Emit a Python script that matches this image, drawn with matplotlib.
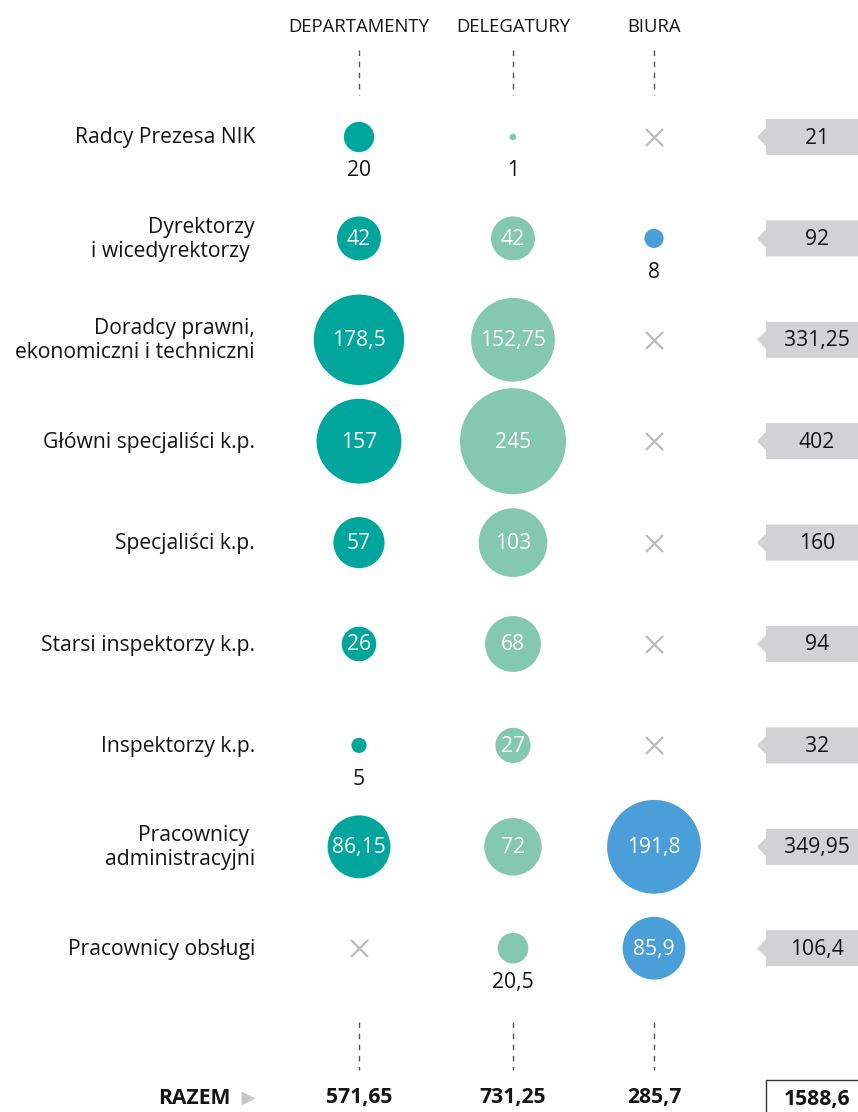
import matplotlib
matplotlib.use('Agg')
import matplotlib.pyplot as plt
from matplotlib.patches import Circle, Polygon, Rectangle

plt.rcParams['font.family'] = ['Open Sans', 'DejaVu Sans']

categories = ['Radcy Prezesa NIK', 'Dyrektorzy\ni wicedyrektorzy ',
              'Doradcy prawni,\nekonomiczni i techniczni', 'Główni specjaliści k.p.',
              'Specjaliści k.p.', 'Starsi inspektorzy k.p.', 'Inspektorzy k.p.',
              'Pracownicy \nadministracyjni', 'Pracownicy obsługi']
columns = ['DEPARTAMENTY', 'DELEGATURY', 'BIURA']
departamenty = [20, 42, 178.5, 157, 57, 26, 5, 86.15, None]
delegatury = [1, 42, 152.75, 245, 103, 68, 27, 72, 20.5]
biura = [None, 8, None, None, None, None, None, 191.8, 85.9]
razem_wiersz = [21, 92, 331.25, 402, 160, 94, 32, 349.95, 106.4]
razem_kolumny = [571.65, 731.25, 285.7]
razem = 1588.6

colors = ['#00a69c', '#84c8b0', '#4a9fd8']
col_x = [359, 513, 654]
row_y = [137 + 101.4 * i for i in range(len(categories))]


def fmt(v):
    return f'{v:g}'.replace('.', ',')


fig = plt.figure(figsize=(8.58, 11.12), dpi=100)
ax = fig.add_axes([0, 0, 1, 1])
ax.set_xlim(0, 858)
ax.set_ylim(1112, 0)
ax.axis('off')

fs = 15.2
txt = '#141414'

# naglowki kolumn i linie przerywane
for x, name in zip(col_x, columns):
    ax.text(x, 27, name, ha='center', va='center', fontsize=13.3, color=txt)
    ax.plot([x, x], [50, 95], ls=(0, (4, 4)), color='#555555', lw=1)
    ax.plot([x, x], [1022, 1070], ls=(0, (4, 4)), color='#555555', lw=1)

for i, (cat, y) in enumerate(zip(categories, row_y)):
    ax.text(255, y + 1, cat, ha='right', va='center', fontsize=fs, color=txt,
            linespacing=1.17)
    for j, series in enumerate([departamenty, delegatury, biura]):
        v = series[i]
        x = col_x[j]
        if v is None:
            ax.scatter([x], [y], marker='x', s=150, color='#bbbbbb', linewidths=1.6)
            continue
        r = 53 * (v / 245) ** 0.5
        ax.add_patch(Circle((x, y), r, color=colors[j], lw=0))
        if v < 25:
            ax.text(x, y + 34, fmt(v), ha='center', va='center', fontsize=fs,
                    color=txt)
        else:
            ax.text(x, y + 1, fmt(v), ha='center', va='center', fontsize=fs,
                    color='white')
    # szare pola z suma
    ax.add_patch(Polygon([(766, y - 18), (858, y - 18), (858, y + 18), (766, y + 18),
                          (766, y + 9), (757, y), (766, y - 9)],
                         closed=True, color='#d1d2d4', lw=0))
    ax.text(817, y + 1, fmt(razem_wiersz[i]), ha='center', va='center', fontsize=fs,
            color=txt)

# wiersz RAZEM
ax.text(230, 1098, 'RAZEM', ha='right', va='center', fontsize=fs, weight='bold',
        color=txt)
ax.scatter([248], [1098], marker='>', s=100, color='#c8c8c8', linewidths=0)
for x, v in zip(col_x, razem_kolumny):
    ax.text(x, 1098, fmt(v), ha='center', va='center', fontsize=fs, weight='bold',
            color=txt)
ax.add_patch(Rectangle((766, 1080), 100, 40, facecolor='white', edgecolor='#333333',
                       lw=1))
ax.text(817, 1100, fmt(razem), ha='center', va='center', fontsize=fs, weight='bold',
        color=txt)

fig.savefig('out.png', dpi=100)
